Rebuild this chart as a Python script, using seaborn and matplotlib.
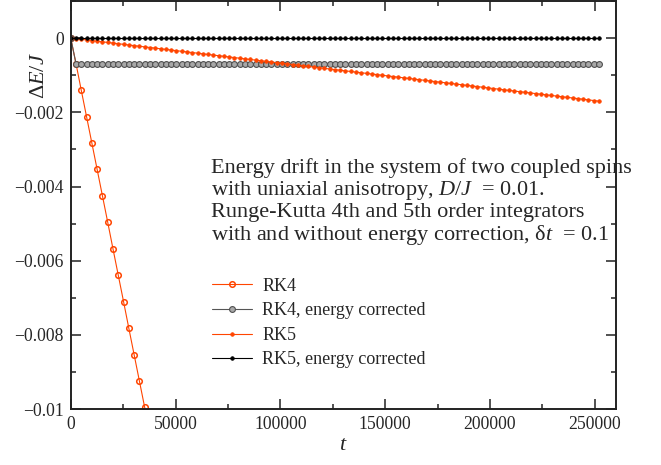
import numpy as np
import pandas as pd
import seaborn as sns
import matplotlib
matplotlib.use("Agg")
import matplotlib.pyplot as plt
from matplotlib.ticker import MultipleLocator, FixedLocator

# sample times (every 2520 time units, 0 .. 252000)
t = np.arange(0, 252001, 2520)

# RK4 (energy drift, units of 1e-6), only the part that is on the plot
rk4 = [0, -690, -1410, -2120, -2830, -3540, -4250, -4960, -5680, -6390,
       -7100, -7820, -8530, -9240, -9950, -10660]
# RK4 energy corrected: one jump then flat
rk4c = [0] + [-690] * 100
# RK5 (units of 1e-6)
rk5 = [0, -17, -34, -51, -68, -85, -102, -119, -136, -153,
       -170, -187, -204, -221, -238, -255, -272, -289, -306, -323,
       -340, -357, -374, -391, -408, -425, -442, -459, -476, -493,
       -510, -527, -544, -561, -578, -595, -612, -629, -646, -663,
       -680, -697, -714, -731, -748, -765, -782, -799, -816, -833,
       -850, -867, -884, -901, -918, -935, -952, -969, -986, -1003,
       -1020, -1037, -1054, -1071, -1088, -1105, -1122, -1139, -1156, -1173,
       -1190, -1207, -1224, -1241, -1258, -1275, -1292, -1309, -1326, -1343,
       -1360, -1377, -1394, -1411, -1428, -1445, -1462, -1479, -1496, -1513,
       -1530, -1547, -1564, -1581, -1598, -1615, -1632, -1649, -1666, -1683,
       -1700]
# RK5 energy corrected: stays at zero
rk5c = [0] * 101

labels = ["RK4", "RK4, energy corrected", "RK5", "RK5, energy corrected"]
yticks = [0, -0.002, -0.004, -0.006, -0.008, -0.01]
ytick_labels = ["0", "\u22120.002", "\u22120.004", "\u22120.006", "\u22120.008", "\u22120.01"]
xticks = [0, 50000, 100000, 150000, 200000, 250000]
note = ("Energy drift in the system of two coupled spins\n"
        "with uniaxial anisotropy, $D/J$  = 0.01.\n"
        "Runge-Kutta 4th and 5th order integrators\n"
        "with and without energy correction, \u03b4$t$  = 0.1")

sns.set_style("ticks")
plt.rcParams["font.family"] = ["Liberation Serif", "DejaVu Serif"]
plt.rcParams["mathtext.fontset"] = "custom"
plt.rcParams["mathtext.rm"] = "Liberation Serif"
plt.rcParams["mathtext.it"] = "Liberation Serif:italic"
plt.rcParams["axes.unicode_minus"] = True

orange = "#ff4500"

fig = plt.figure(figsize=(6.61, 4.65), dpi=100)
ax = fig.add_axes([0.107, 0.12, 0.8245, 0.878])

sns.lineplot(x=t[:len(rk4)], y=np.array(rk4) * 1e-6, ax=ax, color=orange, lw=0.8,
             marker="o", ms=4, mfc="none", mec=orange, mew=1.1, label=labels[0])
sns.lineplot(x=t, y=np.array(rk4c) * 1e-6, ax=ax, color="#555555", lw=0.8,
             marker="o", ms=4.2, mfc="#a8a8a8", mec="#505050", mew=0.8, label=labels[1])
sns.lineplot(x=t, y=np.array(rk5) * 1e-6, ax=ax, color=orange, lw=0.8,
             marker="o", ms=2.6, mfc=orange, mec=orange, mew=0.5, label=labels[2])
sns.lineplot(x=t, y=np.array(rk5c) * 1e-6, ax=ax, color="black", lw=0.8,
             marker="o", ms=2.6, mfc="black", mec="black", mew=0.5, label=labels[3])

ax.set_xlim(0, 260000)
ax.set_ylim(-0.01, 0.001)
ax.xaxis.set_major_locator(FixedLocator(xticks))
ax.xaxis.set_minor_locator(MultipleLocator(25000))
ax.set_xticklabels([str(v) for v in xticks])
ax.yaxis.set_major_locator(FixedLocator(yticks))
ax.yaxis.set_minor_locator(MultipleLocator(0.001))
ax.set_yticklabels(ytick_labels)

ax.tick_params(which="both", direction="in", top=True, right=True, labelsize=12.7,
               width=1.1, color="#222222")
ax.tick_params(which="major", length=7.5, pad=5)
ax.tick_params(which="minor", length=3.8)
for s in ax.spines.values():
    s.set_linewidth(1.4)
    s.set_color("#222222")

ax.set_xlabel("$t$", fontsize=16, labelpad=2)
ax.set_ylabel("$\\Delta E/J$", fontsize=16)
ax.yaxis.set_label_coords(-0.040, 0.816)

ax.text(0.258, 0.615, note, transform=ax.transAxes, fontsize=16,
        va="top", ha="left", linespacing=1.07, clip_on=False)

ax.legend(loc="upper left", bbox_to_anchor=(0.259, 0.322), frameon=False,
          fontsize=13, borderpad=0, borderaxespad=0, handlelength=2.2,
          labelspacing=0.42, handletextpad=0.6)

fig.savefig("out.png", dpi=100)
